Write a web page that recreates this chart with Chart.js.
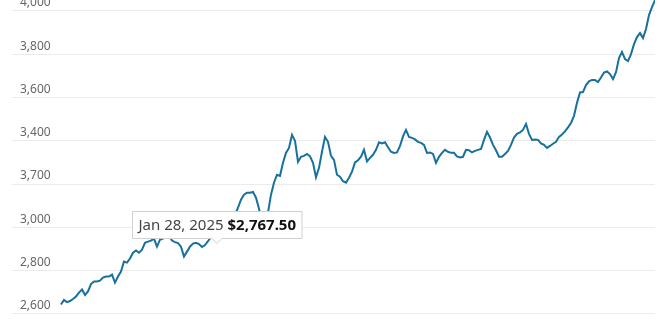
<!DOCTYPE html>
<html>
<head>
<meta charset="utf-8">
<script src="https://cdn.jsdelivr.net/npm/chart.js@4.4.1/dist/chart.umd.min.js"></script>
<style>
  html, body { margin: 0; padding: 0; background: #fff; }
  #wrap { width: 660px; height: 330px; position: relative; }
</style>
</head>
<body>
<div id="wrap"><canvas id="goldChart"></canvas></div>
<script>
// price series, one reading per step along the line
var prices = [
  2644, 2665, 2655, 2660, 2669, 2681, 2699, 2713, 2688, 2704,
  2738, 2750, 2750, 2754, 2768, 2773, 2773, 2782, 2745, 2773,
  2796, 2842, 2837, 2856, 2883, 2893, 2883, 2897, 2929, 2934,
  2939, 2948, 2911, 2943, 2948, 2955, 2962, 2939, 2932, 2927,
  2911, 2865, 2888, 2911, 2925, 2929, 2923, 2909, 2918, 2936,
  2955, 2955, 2943, 2953, 2966, 2980, 3003, 3026, 3056, 3091,
  3128, 3151, 3160, 3160, 3164, 3137, 3086, 3026, 3008, 3068,
  3151, 3206, 3243, 3238, 3298, 3344, 3367, 3427, 3400, 3303,
  3326, 3330, 3339, 3328, 3298, 3231, 3275, 3349, 3418, 3395,
  3330, 3312, 3243, 3234, 3213, 3206, 3229, 3257, 3300, 3310,
  3326, 3358, 3305, 3321, 3335, 3358, 3393, 3388, 3393, 3370,
  3349, 3344, 3346, 3376, 3420, 3450, 3418, 3413, 3406, 3395,
  3390, 3381, 3344, 3346, 3339, 3298, 3326, 3344, 3358, 3349,
  3344, 3344, 3328, 3323, 3326, 3358, 3356, 3346, 3353, 3358,
  3362, 3404, 3441, 3415, 3381, 3356, 3326, 3326, 3339, 3353,
  3381, 3415, 3432, 3439, 3450, 3478, 3432, 3404, 3406, 3404,
  3388, 3381, 3367, 3376, 3386, 3395, 3418, 3429, 3443, 3462,
  3482, 3515, 3575, 3623, 3625, 3657, 3674, 3681, 3681, 3671,
  3692, 3715, 3720, 3708, 3685, 3717, 3782, 3810, 3777, 3768,
  3800, 3846, 3879, 3897, 3874, 3916, 3980, 4017, 4049
];

// y axis ticks and the text printed on them
var tickValues = [2600, 2800, 3000, 3200, 3400, 3600, 3800, 4000];
var tickLabels = ['2,600', '2,800', '3,000', '3,700', '3,400', '3,600', '3,800', '4,000'];

// hover box
var tipIndex = 52;
var tipDate = 'Jan 28, 2025';
var tipPrice = '$2,767.50';

var points = prices.map(function (v, i) { return { x: i, y: v }; });

// draws the little hover box with its pointer
var tipBox = {
  id: 'tipBox',
  afterDatasetsDraw: function (chart) {
    var pt = chart.getDatasetMeta(0).data[tipIndex];
    if (!pt) return;
    var ctx = chart.ctx;
    ctx.save();
    var f1 = '15px "Noto Sans", sans-serif';
    var f2 = 'bold 15px "Noto Sans", sans-serif';
    ctx.font = f1;
    var w1 = ctx.measureText(tipDate + ' ').width;
    ctx.font = f2;
    var w2 = ctx.measureText(tipPrice).width;
    var padX = 6, h = 27;
    var w = w1 + w2 + padX * 2;
    var left = Math.round(pt.x - w / 2) + 0.5;
    var bottom = Math.round(pt.y) - 1.5;
    var top = bottom - h;

    ctx.fillStyle = '#ffffff';
    ctx.strokeStyle = '#d0d0d0';
    ctx.lineWidth = 1;
    ctx.beginPath();
    ctx.moveTo(left, top);
    ctx.lineTo(left + w, top);
    ctx.lineTo(left + w, bottom);
    ctx.lineTo(pt.x + 5, bottom);
    ctx.lineTo(pt.x, bottom + 5);
    ctx.lineTo(pt.x - 5, bottom);
    ctx.lineTo(left, bottom);
    ctx.closePath();
    ctx.fill();
    ctx.stroke();

    ctx.textBaseline = 'middle';
    ctx.font = f1;
    ctx.fillStyle = '#444';
    ctx.fillText(tipDate + ' ', left + padX, top + h / 2 + 1);
    ctx.font = f2;
    ctx.fillStyle = '#111';
    ctx.fillText(tipPrice, left + padX + w1, top + h / 2 + 1);
    ctx.restore();
  }
};

const ctx = document.getElementById('goldChart').getContext('2d');
const goldChart = new Chart(ctx, {
  type: 'line',
  data: {
    datasets: [{
      data: points,
      borderColor: '#17719c',
      borderWidth: 2,
      pointRadius: 0,
      tension: 0,
      fill: false
    }]
  },
  options: {
    responsive: true,
    maintainAspectRatio: false,
    animation: false,
    events: [],
    layout: { padding: { left: 12, right: 5, top: 0, bottom: 0 } },
    plugins: {
      legend: { display: false },
      tooltip: { enabled: false }
    },
    scales: {
      x: {
        type: 'linear',
        min: -16.33,
        max: 198,
        display: false
      },
      y: {
        min: 2526,
        max: 4050,
        border: { display: false },
        grid: { color: '#ebebeb', drawTicks: false, lineWidth: 1 },
        afterFit: function (scale) {
          // labels sit inside the plot, so no room is kept for them
          scale.width = 0;
          scale.paddingTop = 0;
          scale.paddingBottom = 0;
        },
        afterBuildTicks: function (scale) {
          scale.ticks = tickValues.map(function (v) { return { value: v }; });
        },
        ticks: {
          mirror: true,
          padding: 8,
          labelOffset: -8,
          color: '#666',
          font: { family: '"Noto Sans", sans-serif', size: 12 },
          autoSkip: false,
          callback: function (value) {
            var k = tickValues.indexOf(value);
            return k >= 0 ? tickLabels[k] : '';
          }
        }
      }
    }
  },
  plugins: [tipBox]
});
</script>
</body>
</html>
